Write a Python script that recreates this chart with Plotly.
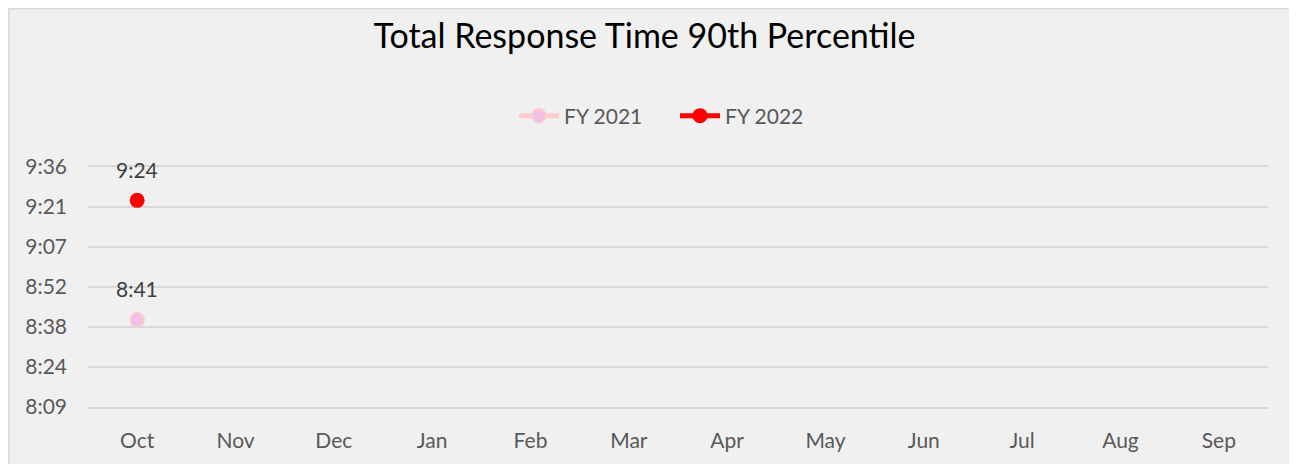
import plotly.graph_objects as go

# ---- data ----
months = ["Oct", "Nov", "Dec", "Jan", "Feb", "Mar", "Apr", "May", "Jun", "Jul", "Aug", "Sep"]
fy2021 = ["8:41", None, None, None, None, None, None, None, None, None, None, None]
fy2022 = ["9:24", None, None, None, None, None, None, None, None, None, None, None]
y_tick_labels = ["8:09", "8:24", "8:38", "8:52", "9:07", "9:21", "9:36"]
axis_min_days = 0.34
axis_step_days = 0.01


def to_minutes(s):
    if s is None:
        return None
    h, m = s.split(":")
    return int(h) * 60 + int(m)


y21 = [to_minutes(v) for v in fy2021]
y22 = [to_minutes(v) for v in fy2022]
tickvals = [(axis_min_days + i * axis_step_days) * 1440 for i in range(len(y_tick_labels))]

FONT = "Lato"
# page body has an 8px margin; figure sized to fit the window
W, H = 1289, 456
ML, MR, MT, MB = 80, 29, 159, 57
PW, PH = W - ML - MR, H - MT - MB

fig = go.Figure()
fig.add_trace(go.Scatter(
    x=months, y=y21, name="FY 2021", mode="lines+markers",
    line=dict(color="#ffcccc", width=5),
    marker=dict(size=14, color="#f2c1e3", line=dict(color="#ffcccc", width=1.5)),
))
fig.add_trace(go.Scatter(
    x=months, y=y22, name="FY 2022", mode="lines+markers",
    line=dict(color="#ff0000", width=5),
    marker=dict(size=15, color="#ff0000", line=dict(color="#ff0000", width=0)),
))

for xs, ys, labels in ((months, y21, fy2021), (months, y22, fy2022)):
    for x, y, t in zip(xs, ys, labels):
        if y is not None:
            fig.add_annotation(x=x, y=y, text=t, showarrow=False, yshift=31,
                               font=dict(family=FONT, size=21, color="#404040"))

# chart-area background and border
px2x = lambda p: (p - ML) / PW
px2y = lambda p: (H - MB - p) / PH
fig.add_shape(type="rect", xref="paper", yref="paper",
              x0=px2x(0.5), x1=px2x(W + 20), y0=px2y(0.5), y1=px2y(H + 20),
              fillcolor="#f0f0f0", line=dict(color="#d9d9d9", width=2), layer="below")

fig.update_layout(
    width=W, height=H,
    margin=dict(l=ML, r=MR, t=MT, b=MB),
    paper_bgcolor="white", plot_bgcolor="rgba(0,0,0,0)",
    title=dict(text="Total Response Time 90th Percentile", x=636.5 / W, xanchor="center",
               y=1 - 28 / H, yanchor="middle",
               font=dict(family=FONT, size=34, color="#000000")),
    legend=dict(orientation="h", x=px2x(506), xanchor="left", y=px2y(108), yanchor="middle",
                font=dict(family=FONT, size=21, color="#595959"), bgcolor="rgba(0,0,0,0)",
                itemwidth=40, entrywidth=106, entrywidthmode="pixels"),
    showlegend=True,
    font=dict(family=FONT),
)
fig.update_xaxes(type="category", categoryorder="array", categoryarray=months,
                 range=[-0.5, 11.5], showgrid=False, zeroline=False,
                 showline=True, mirror=True, linecolor="#d9d9d9", linewidth=2,
                 ticks="", ticklabelstandoff=14,
                 tickfont=dict(family=FONT, size=21, color="#595959"))
fig.update_yaxes(range=[tickvals[0], tickvals[-1]], tickvals=tickvals, ticktext=y_tick_labels,
                 showgrid=True, gridcolor="#d9d9d9", gridwidth=2, zeroline=False, showline=False,
                 ticks="", ticklabelstandoff=20,
                 tickfont=dict(family=FONT, size=21, color="#595959"))

fig.write_html("out.html")
